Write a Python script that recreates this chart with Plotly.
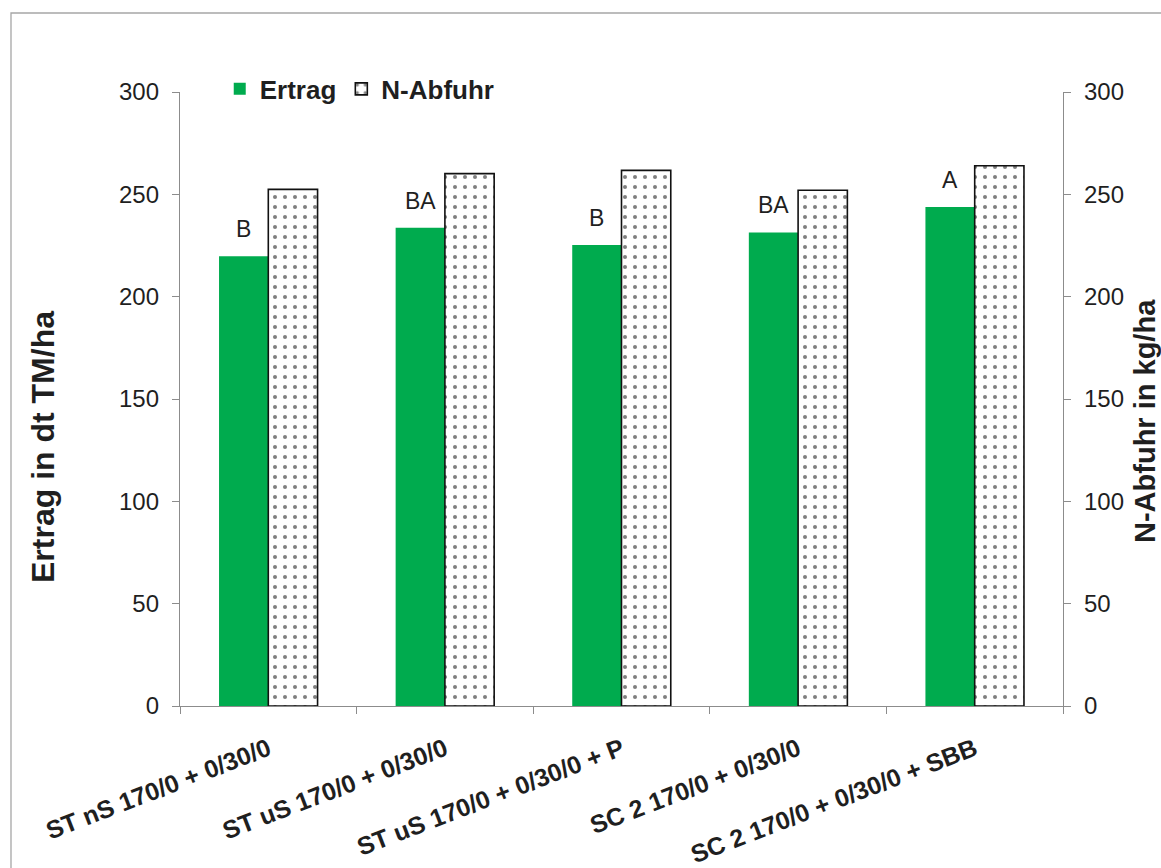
import plotly.graph_objects as go

categories = ["ST nS 170/0 + 0/30/0", "ST uS 170/0 + 0/30/0", "ST uS 170/0 + 0/30/0 + P",
              "SC 2 170/0 + 0/30/0", "SC 2 170/0 + 0/30/0 + SBB"]
ertrag = [219.7, 233.7, 225.2, 231.4, 243.8]
n_abfuhr = [252.4, 260.1, 261.7, 252.0, 264.0]
letters = ["B", "BA", "B", "BA", "A"]
y_ticks = [0, 50, 100, 150, 200, 250, 300]

W, H = 1161, 868
L, R, T, B = 180, 98, 92, 162
plot_w = W - L - R
plot_h = H - T - B
bargap = 0.442
bar_px = plot_w / len(categories) * (1 - bargap) / 2

FONT = "Liberation Sans, Arial, sans-serif"
TXT = "#1f1f1f"
AX = "#8c8c8c"

fig = go.Figure()
fig.add_trace(go.Bar(
    x=categories, y=ertrag, name="<b>Ertrag</b>",
    marker=dict(color="#00AB4E", line=dict(width=0)),
    offsetgroup="1", hoverinfo="skip",
))
fig.add_trace(go.Bar(
    x=categories, y=n_abfuhr, name="<b>N-Abfuhr</b>",
    marker=dict(color="white", line=dict(color="#111111", width=1.6),
                pattern=dict(shape=".", size=10, solidity=0.13, fgcolor="#000000",
                             bgcolor="white", fillmode="overlay")),
    offsetgroup="2", hoverinfo="skip",
))
# invisible trace to carry the secondary axis
fig.add_trace(go.Scatter(x=categories, y=n_abfuhr, yaxis="y2", mode="markers",
                         marker=dict(opacity=0), showlegend=False, hoverinfo="skip"))

for c, v, t in zip(categories, ertrag, letters):
    fig.add_annotation(x=c, y=v, xref="x", yref="y", text=t, showarrow=False,
                       xshift=-bar_px / 2, yanchor="bottom", yshift=12,
                       font=dict(family=FONT, size=23, color=TXT))

axis_common = dict(range=[0, 300], tickvals=y_ticks, ticks="outside", ticklen=7,
                   tickcolor=AX, tickwidth=1.3, showline=True, linecolor=AX,
                   linewidth=1.3, showgrid=False, zeroline=False, automargin=False,
                   tickfont=dict(family=FONT, size=24, color=TXT))

fig.update_layout(
    template="none",
    width=W, height=H,
    margin=dict(l=L, r=R, t=T, b=B, autoexpand=False),
    paper_bgcolor="white", plot_bgcolor="white",
    barmode="group", bargap=bargap, bargroupgap=0,
    xaxis=dict(type="category", tickson="boundaries", ticks="outside", ticklen=7,
               tickcolor=AX, tickwidth=1.3, showline=True, linecolor=AX, linewidth=1.3,
               showgrid=False, tickangle=-21, ticklabelstandoff=18, automargin=False,
               tickvals=categories, ticktext=["<b>%s</b>" % c for c in categories],
               tickfont=dict(family=FONT, size=25, color=TXT)),
    yaxis=dict(**axis_common, ticklabelstandoff=8),
    yaxis2=dict(**axis_common, overlaying="y", side="right", anchor="x",
                ticklabelstandoff=8),
    showlegend=True,
    legend=dict(orientation="h", x=0.045, y=1.005, xanchor="left", yanchor="middle",
                font=dict(family=FONT, size=26, color=TXT), bgcolor="rgba(0,0,0,0)",
                itemwidth=30, traceorder="normal"),
    font=dict(family=FONT, color=TXT),
)

# axis titles
fig.add_annotation(x=(43 - L) / plot_w, y=(H - B - 447) / plot_h, xref="paper", yref="paper",
                   xanchor="center", yanchor="middle", text="<b>Ertrag in dt TM/ha</b>",
                   textangle=-90, showarrow=False,
                   font=dict(family=FONT, size=32, color=TXT))
fig.add_annotation(x=(1145 - L) / plot_w, y=(H - B - 421) / plot_h, xref="paper", yref="paper",
                   xanchor="center", yanchor="middle", text="<b>N-Abfuhr in kg/ha</b>",
                   textangle=-90, showarrow=False,
                   font=dict(family=FONT, size=29, color=TXT))

# outer chart border
fig.add_shape(type="rect", xref="paper", yref="paper",
              x0=(11 - L) / plot_w, x1=1.3, y0=-0.4, y1=(H - B - 13) / plot_h,
              line=dict(color="#a6a6a6", width=1.3), fillcolor="rgba(0,0,0,0)", layer="below")

fig.write_html("out.html", config={"displayModeBar": False},
               post_script="document.body.style.margin='0';document.body.style.overflow='hidden';")
